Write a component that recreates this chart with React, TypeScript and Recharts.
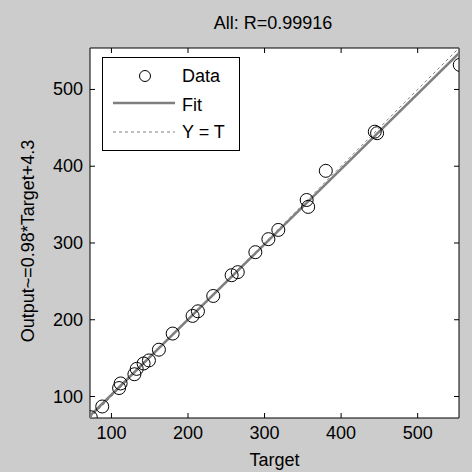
import {
  ComposedChart,
  Scatter,
  XAxis,
  YAxis,
  Legend,
} from "recharts"

const TITLE = "All: R=0.99916"
const X_LABEL = "Target"
const Y_LABEL = "Output~=0.98*Target+4.3"
const LEGEND_NAMES = ["Data", "Fit", "Y = T"]

const AXIS_DOMAIN = [72, 554]
const TICKS = [100, 200, 300, 400, 500]

// targets / outputs
const TARGETS = [73, 88, 110, 112, 130, 133, 142, 149, 162, 180, 206, 213, 233, 257, 265, 288, 305, 318, 355, 357, 380, 444, 447, 555]
const OUTPUTS = [73, 87, 111, 117, 129, 136, 143, 147, 161, 182, 205, 211, 231, 258, 262, 288, 305, 317, 356, 347, 394, 445, 443, 532]

// fit line ends and the Y = T line ends
const FIT_X = [72, 554]
const FIT_Y = [74.9, 547.2]
const IDENT_X = [72, 554]
const IDENT_Y = [72, 554]

const FONT = "'Liberation Sans', Arial, sans-serif"
const BG = "#cccccc"
const LINE_GRAY = "#7f7f7f"
const TICK_LEN = 5

const MARGIN = { top: 47, right: 12, bottom: 24, left: 30 }
const Y_AXIS_W = 60
const X_AXIS_H = 30

const points = TARGETS.map((t, i) => ({ x: t, y: OUTPUTS[i] }))
const fitLine = FIT_X.map((x, i) => ({ x, y: FIT_Y[i] }))
const identLine = IDENT_X.map((x, i) => ({ x, y: IDENT_Y[i] }))

const Circle = (props: any) => (
  <circle cx={props.cx} cy={props.cy} r={6.5} fill="none" stroke="#000" strokeWidth={1} />
)
const NoShape = () => <g />

// inward ticks, MATLAB style; the bottom tick also draws its twin on the top edge
const BottomTick = (props: any) => {
  const { x, y, payload, plotH } = props
  const px = Number(x)
  const py = Number(y)
  return (
    <g>
      <rect x={px - 0.5} y={py - TICK_LEN} width={1} height={TICK_LEN} fill="#000" />
      <rect x={px - 0.5} y={py - plotH} width={1} height={TICK_LEN} fill="#000" />
      <text x={px} y={py + 21} textAnchor="middle" fontSize={18} fontFamily={FONT} fill="#000">
        {payload.value}
      </text>
    </g>
  )
}
const LeftTick = ({ x, y, payload }: any) => {
  const px = Number(x)
  const py = Number(y)
  return (
    <g>
      <rect x={px} y={py - 0.5} width={TICK_LEN} height={1} fill="#000" />
      <text x={px - 7} y={py} textAnchor="end" dominantBaseline="central" fontSize={18} fontFamily={FONT} fill="#000">
        {payload.value}
      </text>
    </g>
  )
}
const RightTick = ({ x, y }: any) => (
  <rect x={Number(x) - TICK_LEN} y={Number(y) - 0.5} width={TICK_LEN} height={1} fill="#000" />
)

function LegendBox() {
  return (
    <svg width={138} height={94} style={{ display: "block" }}>
      <rect x={0.5} y={0.5} width={137} height={93} fill="#fff" stroke="#000" />
      <circle cx={43} cy={19} r={5.5} fill="none" stroke="#000" />
      <line x1={11} x2={73} y1={46} y2={46} stroke={LINE_GRAY} strokeWidth={2.5} />
      <line x1={11} x2={73} y1={75} y2={75} stroke={LINE_GRAY} strokeDasharray="3 3" />
      {LEGEND_NAMES.map((name, i) => (
        <text
          key={name}
          x={80}
          y={[19, 48, 75][i]}
          dominantBaseline="central"
          fontSize={18}
          fontFamily={FONT}
          fill="#000"
        >
          {name}
        </text>
      ))}
    </svg>
  )
}

export default function App() {
  const plotLeft = MARGIN.left + Y_AXIS_W
  const plotTop = MARGIN.top + 1
  const plotW = 472 - plotLeft - MARGIN.right - 1
  const plotH = 472 - plotTop - MARGIN.bottom - X_AXIS_H
  return (
    <div
      style={{
        position: "absolute",
        left: 0,
        top: 0,
        width: 472,
        height: 472,
        background: BG,
        fontFamily: FONT,
      }}
    >
      {/* white axes background, behind the svg */}
      <div
        style={{
          position: "absolute",
          left: plotLeft,
          top: plotTop,
          width: plotW,
          height: plotH,
          background: "#fff",
        }}
      />
      <div
        style={{
          position: "absolute",
          left: 0,
          width: 546,
          top: 13,
          textAlign: "center",
          fontSize: 18,
          color: "#000",
          lineHeight: "20px",
        }}
      >
        {TITLE}
      </div>
      <ComposedChart
        width={472}
        height={472}
        margin={MARGIN}
        style={{ fontFamily: FONT }}
      >
        <XAxis
          xAxisId="b"
          dataKey="x"
          type="number"
          domain={AXIS_DOMAIN}
          ticks={TICKS}
          interval={0}
          allowDataOverflow
          height={X_AXIS_H}
          tickSize={0}
          tickMargin={0}
          tickLine={false}
          tick={<BottomTick plotH={plotH} />}
          axisLine={{ stroke: "#000" }}
          label={{
            value: X_LABEL,
            position: "insideBottom",
            offset: -18,
            style: { fontSize: 18, fontFamily: FONT, fill: "#000" },
          }}
        />
        <XAxis
          xAxisId="t"
          orientation="top"
          type="number"
          domain={AXIS_DOMAIN}
          ticks={TICKS}
          interval={0}
          allowDataOverflow
          height={1}
          tickSize={0}
          tickLine={false}
          tick={false}
          axisLine={{ stroke: "#000" }}
        />
        <YAxis
          yAxisId="l"
          dataKey="y"
          type="number"
          domain={AXIS_DOMAIN}
          ticks={TICKS}
          interval={0}
          allowDataOverflow
          width={Y_AXIS_W}
          tickSize={0}
          tickMargin={0}
          tickLine={false}
          tick={<LeftTick />}
          axisLine={{ stroke: "#000" }}
          label={(props: any) => {
            const vb = props.viewBox
            const cx = vb.x - 2
            const cy = vb.y + vb.height / 2 + 8
            return (
              <text
                x={cx}
                y={cy}
                transform={`rotate(-90, ${cx}, ${cy})`}
                textAnchor="middle"
                dominantBaseline="central"
                fontSize={18}
                fontFamily={FONT}
                fill="#000"
              >
                {Y_LABEL}
              </text>
            )
          }}
        />
        <YAxis
          yAxisId="r"
          orientation="right"
          type="number"
          domain={AXIS_DOMAIN}
          ticks={TICKS}
          interval={0}
          allowDataOverflow
          width={1}
          tickSize={0}
          tickMargin={0}
          tickLine={false}
          tick={<RightTick />}
          axisLine={{ stroke: "#000" }}
        />
        <Scatter
          xAxisId="b"
          yAxisId="l"
          data={fitLine}
          line={{ stroke: LINE_GRAY, strokeWidth: 2.5 }}
          shape={NoShape}
          isAnimationActive={false}
        />
        <Scatter
          xAxisId="b"
          yAxisId="l"
          data={identLine}
          line={{ stroke: LINE_GRAY, strokeWidth: 1, strokeDasharray: "3 3" }}
          shape={NoShape}
          isAnimationActive={false}
        />
        <Scatter
          xAxisId="b"
          yAxisId="l"
          data={points}
          shape={Circle}
          isAnimationActive={false}
        />
        <Legend
          layout="vertical"
          align="center"
          verticalAlign="middle"
          content={<LegendBox />}
          wrapperStyle={{ left: 102, top: 57, width: 138, height: 94 }}
        />
      </ComposedChart>
    </div>
  )
}
